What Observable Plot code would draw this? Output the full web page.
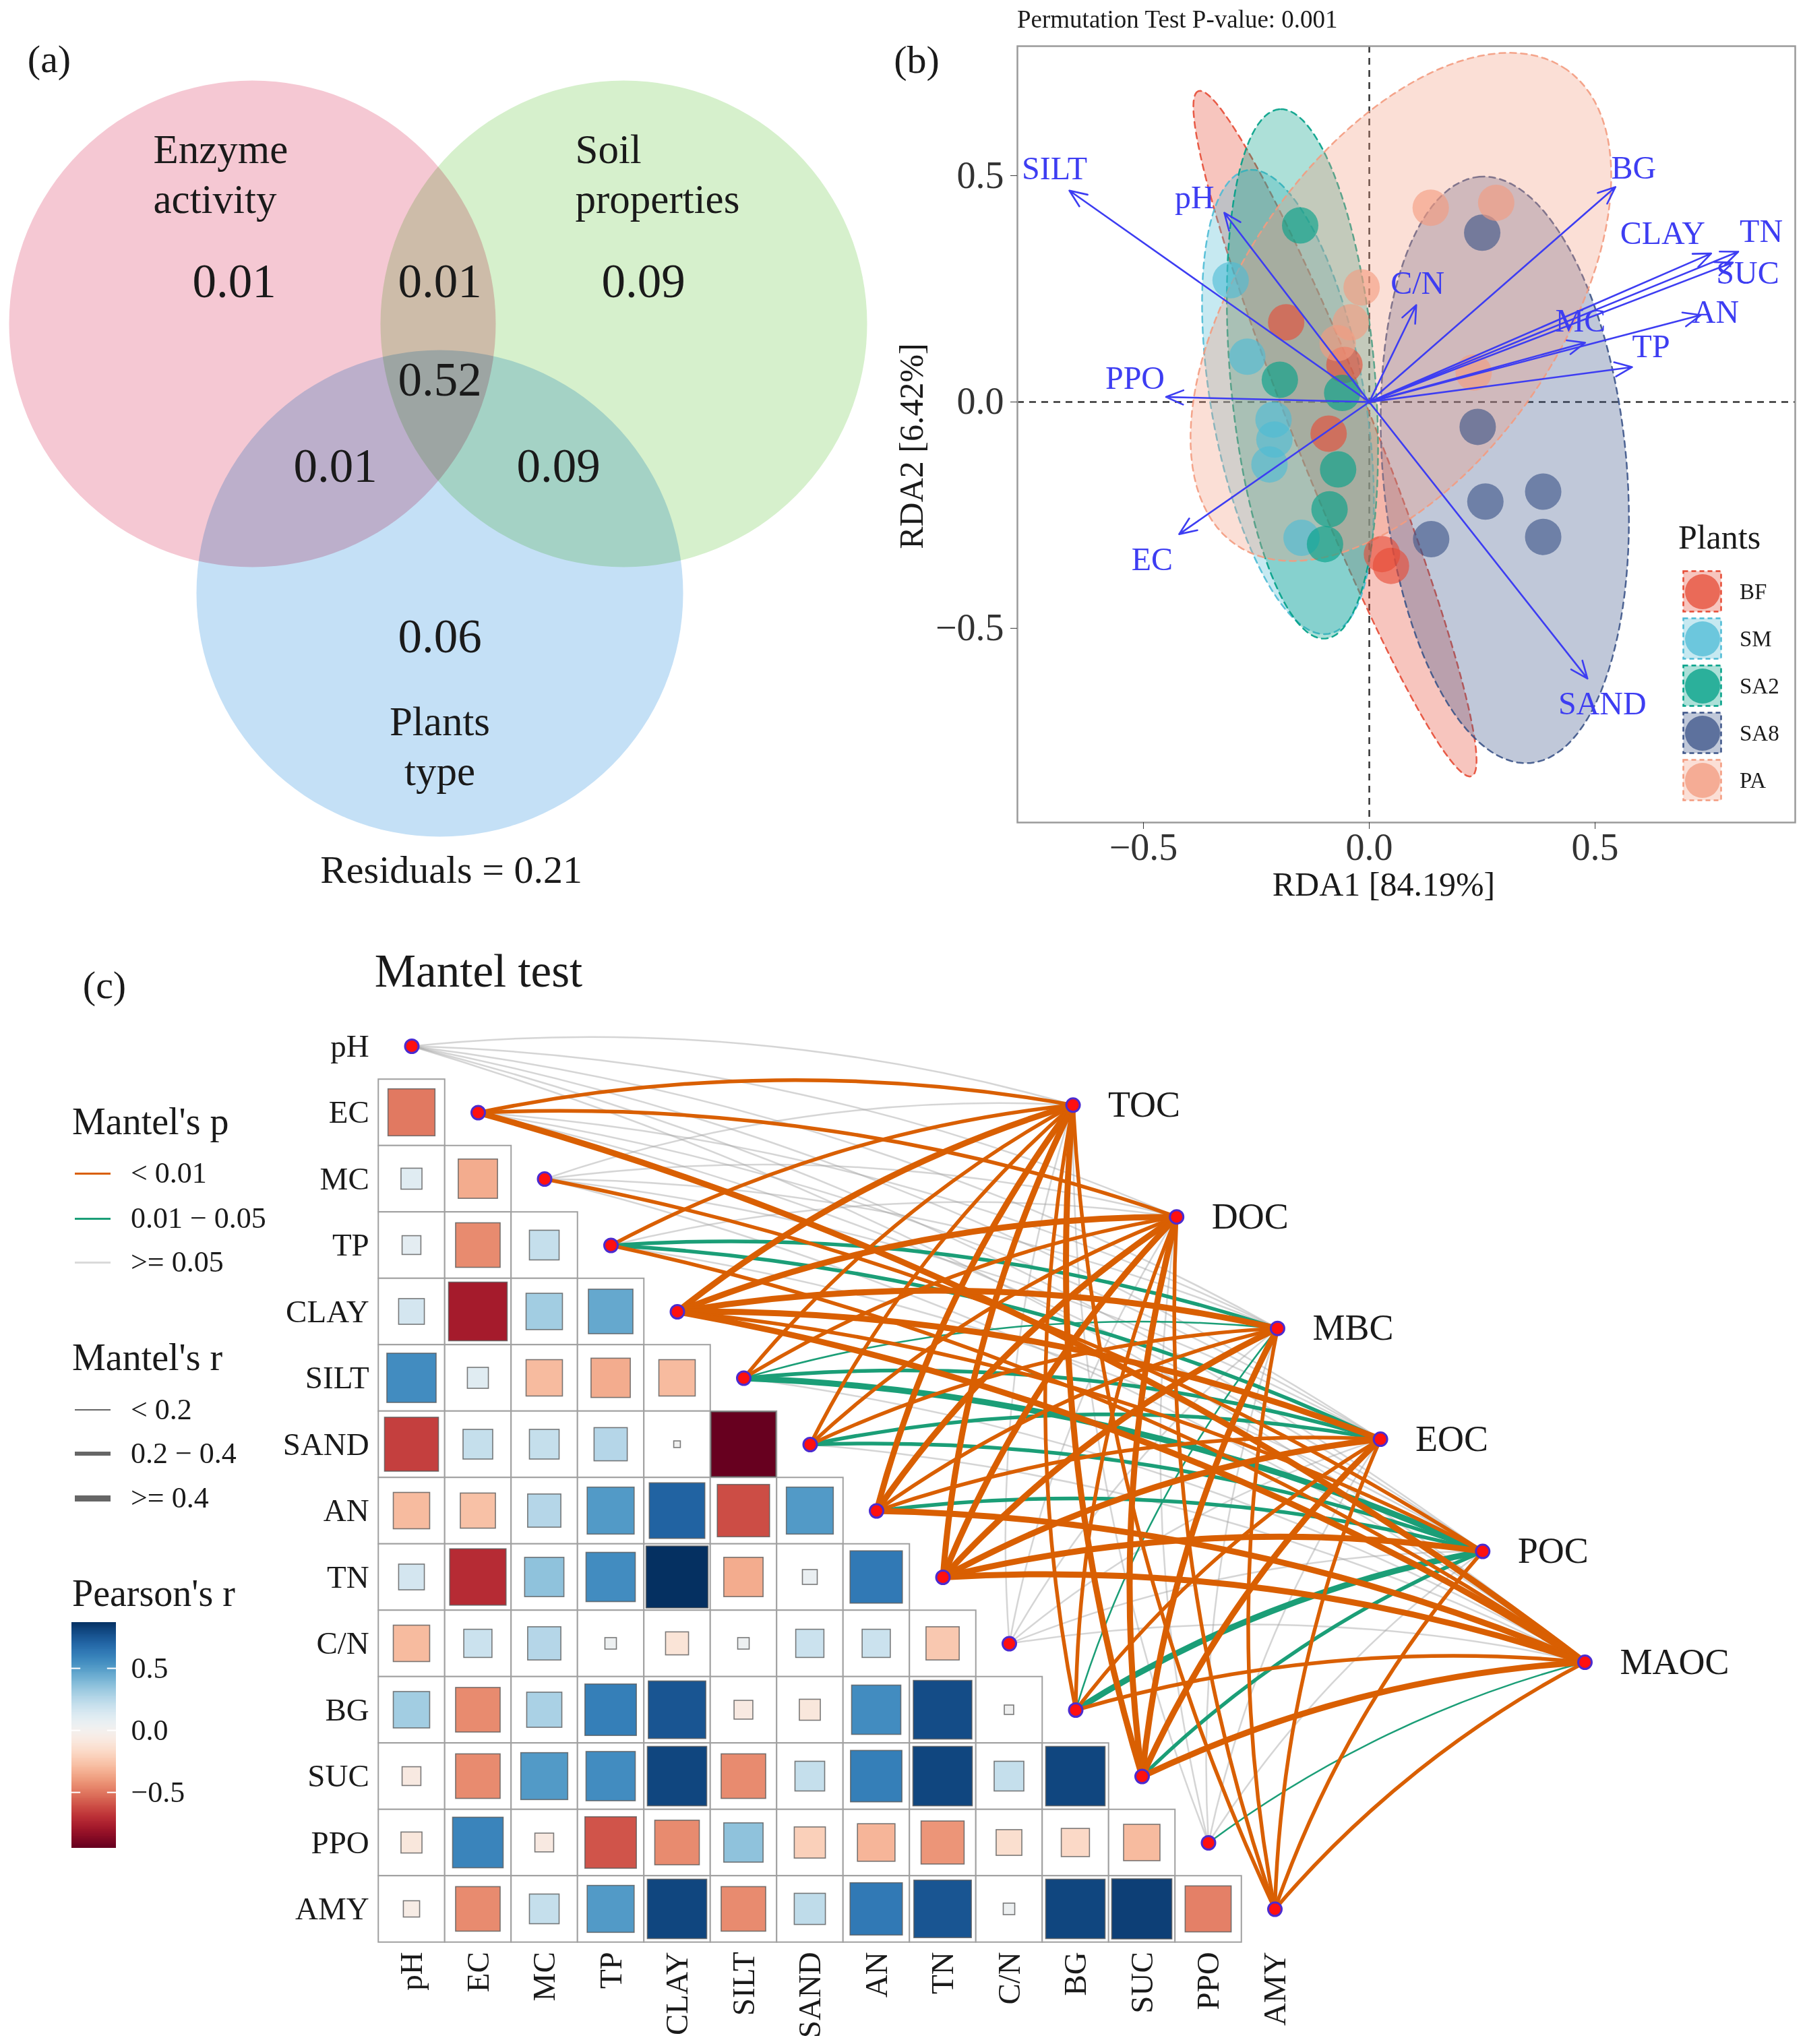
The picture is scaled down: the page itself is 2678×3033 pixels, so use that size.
<!DOCTYPE html>
<html>
<head>
<meta charset="utf-8">
<script src="https://cdn.jsdelivr.net/npm/d3@7"></script>
<script src="https://cdn.jsdelivr.net/npm/@observablehq/plot@0.6"></script>
<style>
  html, body { margin: 0; padding: 0; background: #fff; }
  #root { position: relative; width: 2678px; height: 3033px; background: #fff; overflow: hidden;
          font-family: "Liberation Serif", "Times New Roman", serif; color: #1a1a1a; }
  #root svg { overflow: visible; }
</style>
</head>
<body>
<div id="root"></div>
<script>
// ------------------------------------------------------------------ DATA
// (a) variance partitioning
const vennSets = ["Enzyme\nactivity", "Soil\nproperties", "Plants\ntype"];
const vennRegions = ["E", "E∩S", "S", "E∩S∩P", "E∩P", "S∩P", "P"];
const vennValues = [0.01, 0.01, 0.09, 0.52, 0.01, 0.09, 0.06];
const vennResidual = 0.21;

// (b) RDA
const plantGroups = ["BF", "SM", "SA2", "SA8", "PA"];
const siteGroup = [
  "BF","BF","BF","BF","BF",
  "SM","SM","SM","SM","SM","SM",
  "SA2","SA2","SA2","SA2","SA2","SA2",
  "SA8","SA8","SA8","SA8","SA8","SA8",
  "PA","PA","PA","PA","PA","PA"
];
const siteRDA1 = [
  0.028, 0.048, -0.055, -0.184, -0.090,
  -0.307, -0.212, -0.210, -0.221, -0.270, -0.150,
  -0.153, -0.198, -0.069, -0.088, -0.098, -0.060,
  0.250, 0.240, 0.257, 0.385, 0.385, 0.137,
  0.136, 0.281, -0.017, -0.041, 0.231, -0.070
];
const siteRDA2 = [
  -0.336, -0.362, 0.082, 0.176, -0.070,
  0.269, -0.039, -0.083, -0.138, 0.100, -0.300,
  0.390, 0.049, -0.149, -0.237, -0.314, 0.020,
  0.374, -0.055, -0.220, -0.198, -0.298, -0.303,
  0.429, 0.440, 0.253, 0.176, 0.065, 0.130
];
// 95% ellipses: group, centre, semi-axes, orientation (degrees)
const ellGroup = ["BF", "SM", "SA2", "SA8", "PA"];
const ellCx    = [-0.076, -0.180, -0.148, 0.300, 0.070];
const ellCy    = [-0.070, 0.000, 0.062, -0.150, 0.210];
const ellA     = [0.815, 0.520, 0.587, 0.650, 0.640];
const ellB     = [0.088, 0.170, 0.160, 0.270, 0.350];
const ellAngle = [111.8, 100, 95, 95, 55];

const envNames = ["SILT","pH","PPO","EC","C/N","BG","MC","TP","SAND","CLAY","TN","SUC","AN"];
const envRDA1  = [-0.664, -0.321, -0.450, -0.421, 0.104, 0.545, 0.478, 0.582, 0.483, 0.757, 0.817, 0.805, 0.734];
const envRDA2  = [0.467, 0.418, 0.011, -0.292, 0.214, 0.475, 0.131, 0.077, -0.611, 0.328, 0.332, 0.308, 0.192];

// (c) Pearson correlations (lower triangle, row i vs columns 0..i-1)
const matVars = ["pH","EC","MC","TP","CLAY","SILT","SAND","AN","TN","C/N","BG","SUC","PPO","AMY"];
const pearson = [
  [],
  [-0.50],
  [0.10, -0.35],
  [0.08, -0.45, 0.20],
  [0.15, -0.78, 0.30, 0.45],
  [0.55, 0.10, -0.30, -0.35, -0.30],
  [-0.66, 0.20, 0.20, 0.25, 0.01, -0.95],
  [-0.30, -0.28, 0.25, 0.50, 0.70, -0.62, 0.50],
  [0.15, -0.72, 0.35, 0.55, 0.87, -0.35, 0.05, 0.62],
  [-0.30, 0.18, 0.25, 0.03, -0.12, 0.03, 0.18, 0.18, -0.25],
  [0.30, -0.45, 0.28, 0.60, 0.75, -0.08, -0.10, 0.55, 0.78, 0.02],
  [-0.08, -0.45, 0.50, 0.55, 0.80, -0.45, 0.20, 0.60, 0.80, 0.20, 0.80],
  [-0.10, 0.58, -0.08, -0.60, -0.45, 0.35, -0.22, -0.32, -0.42, -0.15, -0.18, -0.30],
  [-0.06, -0.45, 0.20, 0.50, 0.80, -0.45, 0.22, 0.62, 0.75, 0.03, 0.80, 0.82, -0.48]
];
// Mantel tests: env variable (rows) x carbon fraction (columns)
const mantelTargets = ["TOC","DOC","MBC","EOC","POC","MAOC"];
const mantelP = [
  [0.30, 0.35, 0.40, 0.42, 0.45, 0.50],
  [0.001, 0.001, 0.12, 0.15, 0.20, 0.001],
  [0.20, 0.25, 0.15, 0.30, 0.005, 0.20],
  [0.004, 0.10, 0.02, 0.03, 0.08, 0.006],
  [0.001, 0.001, 0.001, 0.001, 0.002, 0.001],
  [0.003, 0.004, 0.03, 0.02, 0.015, 0.10],
  [0.005, 0.004, 0.006, 0.02, 0.03, 0.08],
  [0.001, 0.001, 0.002, 0.003, 0.02, 0.001],
  [0.001, 0.001, 0.001, 0.001, 0.001, 0.001],
  [0.40, 0.50, 0.30, 0.35, 0.30, 0.45],
  [0.002, 0.003, 0.04, 0.004, 0.012, 0.005],
  [0.001, 0.001, 0.001, 0.002, 0.02, 0.001],
  [0.30, 0.35, 0.25, 0.20, 0.15, 0.04],
  [0.002, 0.002, 0.003, 0.004, 0.006, 0.005]
];
const mantelR = [
  [0.10, 0.10, 0.10, 0.10, 0.10, 0.10],
  [0.30, 0.30, 0.10, 0.10, 0.10, 0.45],
  [0.10, 0.10, 0.10, 0.10, 0.30, 0.10],
  [0.30, 0.10, 0.25, 0.25, 0.10, 0.30],
  [0.50, 0.50, 0.45, 0.45, 0.35, 0.50],
  [0.30, 0.30, 0.15, 0.30, 0.42, 0.10],
  [0.30, 0.30, 0.30, 0.30, 0.30, 0.10],
  [0.45, 0.45, 0.30, 0.30, 0.30, 0.45],
  [0.50, 0.50, 0.45, 0.45, 0.45, 0.50],
  [0.10, 0.10, 0.10, 0.10, 0.10, 0.10],
  [0.30, 0.30, 0.15, 0.30, 0.42, 0.30],
  [0.50, 0.50, 0.45, 0.45, 0.30, 0.55],
  [0.10, 0.10, 0.10, 0.10, 0.10, 0.15],
  [0.30, 0.30, 0.30, 0.30, 0.30, 0.30]
];

// ------------------------------------------------------------------ LAYOUT / STYLE
const FONT = '"Liberation Serif","Times New Roman",serif';
const TXT = "#1a1a1a";
const root = document.getElementById("root");

function addPlot(svg, left, top) {
  svg.style.position = "absolute";
  svg.style.left = left + "px";
  svg.style.top = top + "px";
  root.appendChild(svg);
}
function addText(text, x, y, size, anchor = "middle", rotate = 0, color = TXT) {
  const d = document.createElement("div");
  d.textContent = text;
  d.style.cssText = `position:absolute;left:${x}px;top:${y}px;font-size:${size}px;line-height:1;white-space:nowrap;font-family:${FONT};color:${color};`;
  const tx = anchor === "middle" ? "-50%" : anchor === "end" ? "-100%" : "0";
  d.style.transform = `translate(${tx},-50%)` + (rotate ? ` rotate(${rotate}deg)` : "");
  root.appendChild(d);
}
function addSwatch(x1, x2, y, color, w) {
  const d = document.createElement("div");
  d.style.cssText = `position:absolute;left:${x1}px;top:${y - w / 2}px;width:${x2 - x1}px;height:${w}px;background:${color};`;
  root.appendChild(d);
}
const baseStyle = {background: "transparent", overflow: "visible", fontFamily: FONT, color: TXT};

// ------------------------------------------------------------------ (a) VENN
const vennLayout = {
  radius: 361,
  circles: [
    {cx: 374, cy: 480, fill: "#F5C8D3"},
    {cx: 925, cy: 480, fill: "#D6F0CC"},
    {cx: 652, cy: 880, fill: "#C4E0F6"}
  ],
  regionPos: [[347, 418], [652, 418], [954, 418], [652, 564], [497, 692], [828, 692], [652, 945]],
  setPos: [[227, 255, "start"], [853, 255, "start"], [652, 1104, "middle"]],
  residualPos: [669, 1291]
};
const regionData = vennRegions.map((r, i) => ({region: r, value: vennValues[i], x: vennLayout.regionPos[i][0], y: vennLayout.regionPos[i][1]}));
const setData = vennSets.map((s, i) => ({name: s, x: vennLayout.setPos[i][0], y: vennLayout.setPos[i][1], anchor: vennLayout.setPos[i][2]}));

const vennPlot = Plot.plot({
  width: 1300, height: 1340, margin: 0,
  x: {domain: [0, 1300], range: [0, 1300], axis: null},
  y: {domain: [0, 1340], range: [0, 1340], axis: null},
  style: baseStyle,
  marks: [
    ...vennLayout.circles.map(c => Plot.dot([c], {x: "cx", y: "cy", r: vennLayout.radius, fill: c.fill, mixBlendMode: "multiply"})),
    Plot.text(regionData, {x: "x", y: "y", text: d => d.value.toFixed(2), fontSize: 71, fill: TXT}),
    Plot.text(setData.filter(d => d.anchor === "start"), {x: "x", y: "y", text: "name", fontSize: 61, lineHeight: 1.2, textAnchor: "start", fill: TXT}),
    Plot.text(setData.filter(d => d.anchor === "middle"), {x: "x", y: "y", text: "name", fontSize: 61, lineHeight: 1.2, fill: TXT}),
    Plot.text([vennResidual], {x: () => vennLayout.residualPos[0], y: () => vennLayout.residualPos[1], text: d => `Residuals = ${d.toFixed(2)}`, fontSize: 58, fill: TXT})
  ]
});
addPlot(vennPlot, 0, 0);
addText("(a)", 73, 88, 58);

// ------------------------------------------------------------------ (b) RDA
const groupColors = {BF: "#E64B35", SM: "#4DBBD5", SA2: "#00A087", SA8: "#3C5488", PA: "#F39B7F"};
const sites = siteGroup.map((g, i) => ({group: g, x: siteRDA1[i], y: siteRDA2[i]}));
const ellipses = ellGroup.map((g, i) => {
  const th = ellAngle[i] * Math.PI / 180, pts = [];
  for (let k = 0; k < 120; k++) {
    const t = k / 120 * 2 * Math.PI;
    const u = ellA[i] * Math.cos(t), v = ellB[i] * Math.sin(t);
    pts.push({x: ellCx[i] + u * Math.cos(th) - v * Math.sin(th), y: ellCy[i] + u * Math.sin(th) + v * Math.cos(th)});
  }
  return {group: g, pts};
});
// label offsets (pixels) relative to arrow tips
const envLabelOffset = {
  SILT: [-22, -32], pH: [-44, -22], PPO: [-46, -27], EC: [-40, 38], "C/N": [2, -32],
  BG: [27, -28], MC: [-7, -32], TP: [28, -30], SAND: [22, 38], CLAY: [-72, -30],
  TN: [34, -30], SUC: [22, 16], AN: [22, -4]
};
const B = {left: 1340, top: 0, width: 1338, height: 1340, mL: 169, mR: 15, mT: 68, mB: 120, xd: [-0.779, 0.943], yd: [-0.929, 0.786]};
const pxX = (B.width - B.mL - B.mR) / (B.xd[1] - B.xd[0]);
const pxY = (B.height - B.mT - B.mB) / (B.yd[1] - B.yd[0]);
const envArrows = envNames.map((n, i) => ({name: n, x: envRDA1[i], y: envRDA2[i],
  lx: envRDA1[i] + envLabelOffset[n][0] / pxX, ly: envRDA2[i] - envLabelOffset[n][1] / pxY}));
const ARROW = "#3D3DF2";

const rdaPlot = Plot.plot({
  width: B.width, height: B.height,
  marginLeft: B.mL, marginRight: B.mR, marginTop: B.mT, marginBottom: B.mB,
  x: {domain: B.xd, label: null},
  y: {domain: B.yd, label: null},
  style: baseStyle,
  marks: [
    Plot.ruleX([0], {stroke: "#333", strokeWidth: 2.5, strokeDasharray: "10,8"}),
    Plot.ruleY([0], {stroke: "#333", strokeWidth: 2.5, strokeDasharray: "10,8"}),
    ...ellipses.map(e => Plot.line(e.pts, {x: "x", y: "y", curve: "linear-closed",
      fill: groupColors[e.group], fillOpacity: 0.32, stroke: groupColors[e.group], strokeOpacity: 0.9,
      strokeWidth: 2.5, strokeDasharray: "9,7"})),
    ...plantGroups.map(g => Plot.dot(sites.filter(s => s.group === g), {x: "x", y: "y", r: 27,
      fill: groupColors[g], fillOpacity: 0.62})),
    Plot.arrow(envArrows, {x1: () => 0, y1: () => 0, x2: "x", y2: "y", stroke: ARROW, strokeWidth: 2.6,
      headLength: 16, headAngle: 45}),
    Plot.text(envArrows, {x: "lx", y: "ly", text: "name", fill: ARROW, fontSize: 48}),
    Plot.frame({stroke: "#9a9a9a", strokeWidth: 2.5}),
    Plot.axisX([-0.5, 0, 0.5], {tickFormat: d3.format(".1f"), tickSize: 10, tickPadding: 6, fontSize: 56, color: "#333", label: null}),
    Plot.axisY([-0.5, 0, 0.5], {tickFormat: d3.format(".1f"), tickSize: 10, tickPadding: 10, fontSize: 56, color: "#333", label: null})
  ]
});
addPlot(rdaPlot, B.left, B.top);
addText("(b)", 1360, 89, 58);
addText("Permutation Test P-value: 0.001", 1509, 28, 37, "start");
addText("RDA1 [84.19%]", 2053, 1312, 50);
addText("RDA2 [6.42%]", 1352, 662, 50, "middle", -90);

// plant legend
const legPlot = Plot.plot({
  width: 200, height: 362, marginLeft: 0, marginRight: 127, marginTop: 0, marginBottom: 0,
  x: {type: "band", domain: ["key"], axis: null},
  y: {type: "band", domain: plantGroups, axis: null},
  style: baseStyle,
  marks: [
    ...plantGroups.map(g => Plot.cell([g], {x: () => "key", y: d => d, inset: 1.5,
      fill: groupColors[g], fillOpacity: 0.32, stroke: groupColors[g], strokeWidth: 2.5, strokeDasharray: "7,5"})),
    ...plantGroups.map(g => Plot.dot([g], {x: () => "key", y: d => d, r: 26, fill: groupColors[g], fillOpacity: 0.75})),
    Plot.text(plantGroups, {x: () => "key", y: d => d, text: d => d, dx: 55, textAnchor: "start", fontSize: 33, fill: TXT})
  ]
});
addPlot(legPlot, 2489, 836);
addText("Plants", 2551, 797, 50);

// ------------------------------------------------------------------ (c) MANTEL
const colorCfg = {type: "diverging", scheme: "RdBu", domain: [-0.95, 0.87], pivot: 0, symmetric: false};
const cells = [];
pearson.forEach((row, i) => row.forEach((r, j) => cells.push({row: i, col: j, r, s: Math.sqrt(Math.abs(r))})));
// node positions of carbon fractions, in matrix units
const targetPos = [[9.96, 0.886], [11.52, 2.57], [13.04, 4.25], [14.59, 5.92], [16.13, 7.61], [17.67, 9.28]];
const links = [];
matVars.forEach((v, i) => mantelTargets.forEach((t, k) => {
  const p = mantelP[i][k], r = mantelR[i][k];
  links.push({env: v, target: t, x1: i, y1: i, x2: targetPos[k][0], y2: targetPos[k][1],
    pcls: p < 0.01 ? "a" : p < 0.05 ? "b" : "c",
    w: r < 0.2 ? 2.5 : r < 0.4 ? 5.5 : 9});
}));
const linkStyle = {a: {stroke: "#D95F02", opacity: 1}, b: {stroke: "#1B9E77", opacity: 1}, c: {stroke: "#A2A2A2", opacity: 0.45}};
const targets = mantelTargets.map((t, k) => ({name: t, x: targetPos[k][0], y: targetPos[k][1]}));

const C = {left: 0, top: 1380, width: 2678, height: 1653, mL: 561.25, mR: 737.75, mT: 122.75, mB: 151.25};
const mantelPlot = Plot.plot({
  width: C.width, height: C.height,
  marginLeft: C.mL, marginRight: C.mR, marginTop: C.mT, marginBottom: C.mB,
  x: {domain: [-0.5, 13.5], label: null},
  y: {domain: [-0.5, 13.5], reverse: true, label: null},
  color: colorCfg,
  style: baseStyle,
  marks: [
    Plot.rect(cells, {x1: d => d.col - 0.5, x2: d => d.col + 0.5, y1: d => d.row - 0.5, y2: d => d.row + 0.5,
      fill: "white", stroke: "#A0A0A0", strokeWidth: 2}),
    Plot.rect(cells, {x1: d => d.col - d.s / 2, x2: d => d.col + d.s / 2, y1: d => d.row - d.s / 2, y2: d => d.row + d.s / 2,
      fill: "r", stroke: "#5a5a5a", strokeWidth: 1.6, strokeOpacity: 0.8}),
    ...["c", "b", "a"].map(c => Plot.arrow(links.filter(l => l.pcls === c), {x1: "x1", y1: "y1", x2: "x2", y2: "y2",
      bend: 11, headLength: 0, stroke: linkStyle[c].stroke, strokeOpacity: linkStyle[c].opacity, strokeWidth: "w"})),
    Plot.dot(matVars, {x: (d, i) => i, y: (d, i) => i, r: 10, fill: "#FF1010", stroke: "#4B2BD0", strokeWidth: 3}),
    Plot.dot(targets, {x: "x", y: "y", r: 10, fill: "#FF1010", stroke: "#4B2BD0", strokeWidth: 3}),
    Plot.text(targets, {x: "x", y: "y", text: "name", dx: 52, textAnchor: "start", fontSize: 54, fill: TXT}),
    Plot.axisY(d3.range(14), {anchor: "left", tickSize: 0, tickPadding: 14, tickFormat: i => matVars[i], fontSize: 47, color: TXT, label: null}),
    Plot.axisX(d3.range(14), {anchor: "bottom", tickSize: 0, tickPadding: 14, tickRotate: -90, tickFormat: i => matVars[i], fontSize: 47, color: TXT, label: null})
  ]
});
addPlot(mantelPlot, C.left, C.top);
addText("(c)", 155, 1462, 58);
addText("Mantel test", 710, 1441, 69);

// Mantel legends
addText("Mantel's p", 107, 1664, 56, "start");
addSwatch(111, 164, 1741, "#D95F02", 3);
addSwatch(111, 164, 1808, "#1B9E77", 3);
addSwatch(111, 164, 1873, "#DADADA", 3);
addText("< 0.01", 194, 1741, 44, "start");
addText("0.01 \u2212 0.05", 194, 1808, 44, "start");
addText(">= 0.05", 194, 1873, 44, "start");
addText("Mantel's r", 107, 2014, 56, "start");
addSwatch(111, 164, 2092, "#666", 2.5);
addSwatch(111, 164, 2157, "#666", 5.5);
addSwatch(111, 164, 2223, "#666", 9);
addText("< 0.2", 194, 2092, 44, "start");
addText("0.2 \u2212 0.4", 194, 2157, 44, "start");
addText(">= 0.4", 194, 2223, 44, "start");
addText("Pearson's r", 107, 2364, 56, "start");

// colour bar
const barSteps = d3.range(colorCfg.domain[0], colorCfg.domain[1], 0.01);
const barPlot = Plot.plot({
  width: 200, height: 335, marginLeft: 0, marginRight: 134, marginTop: 0, marginBottom: 0,
  x: {domain: [0, 1], axis: null},
  y: {domain: colorCfg.domain, label: null},
  color: colorCfg,
  style: baseStyle,
  marks: [
    Plot.rect(barSteps, {x1: () => 0, x2: () => 1, y1: d => d, y2: d => Math.min(d + 0.04, colorCfg.domain[1]), fill: d => d, shapeRendering: "crispEdges"}),
    Plot.ruleY([-0.5, 0, 0.5], {x1: () => 0, x2: () => 0.2, stroke: "white", strokeWidth: 2}),
    Plot.ruleY([-0.5, 0, 0.5], {x1: () => 0.8, x2: () => 1, stroke: "white", strokeWidth: 2}),
    Plot.axisY([-0.5, 0, 0.5], {anchor: "right", tickSize: 0, tickPadding: 22, tickFormat: d3.format(".1f"), fontSize: 44, color: TXT, label: null})
  ]
});
addPlot(barPlot, 106, 2407);
</script>
</body>
</html>
